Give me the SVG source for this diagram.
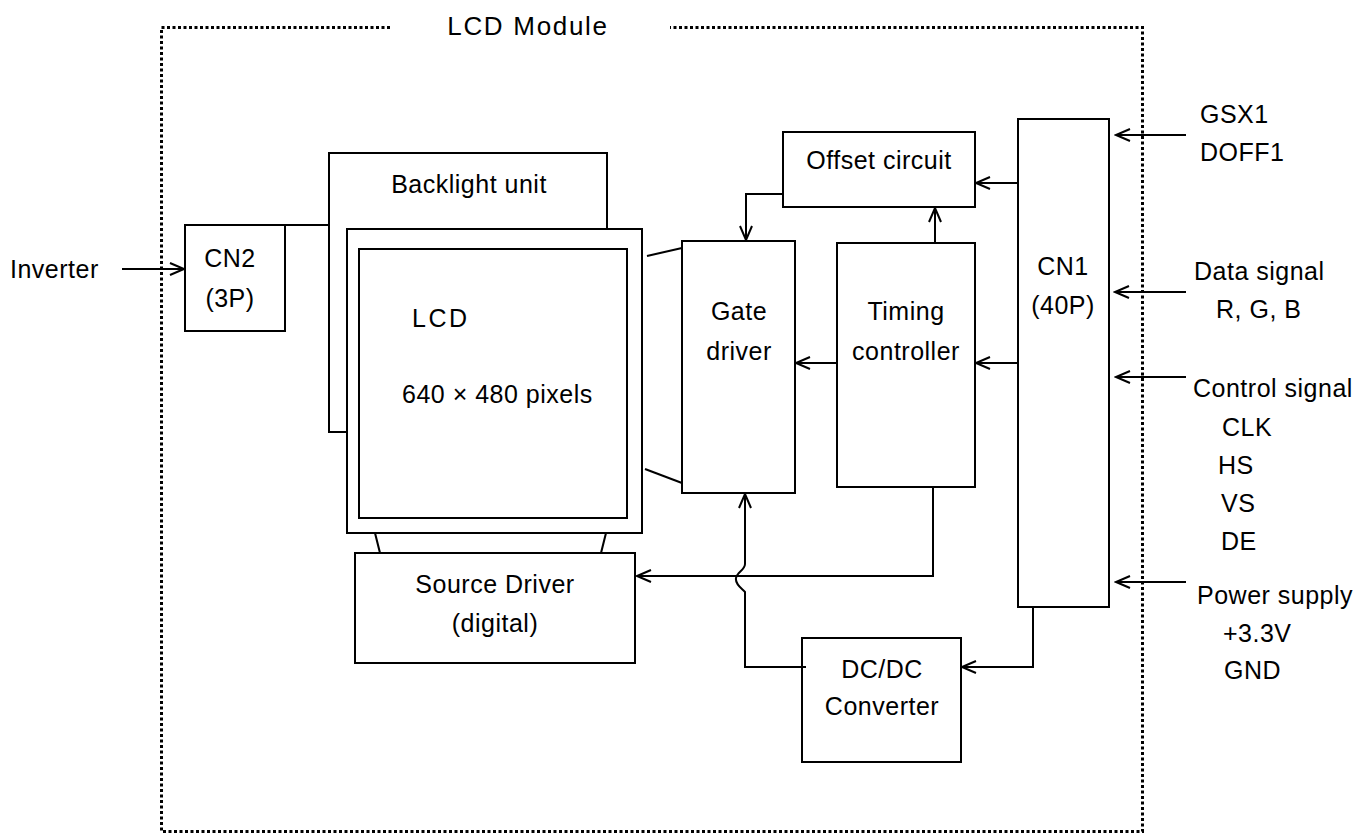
<svg xmlns="http://www.w3.org/2000/svg" width="1371" height="839" viewBox="0 0 1371 839">
<defs>
<style>
text{font-family:"Liberation Sans",Arial,Helvetica,sans-serif;font-size:25px;fill:#000;letter-spacing:0.5px}
.c{text-anchor:middle}
.box{fill:#fff;stroke:#000;stroke-width:2}
.ln{fill:none;stroke:#000;stroke-width:2}
.arr{fill:none;stroke:#000;stroke-width:2;marker-end:url(#ah)}
.border{fill:none;stroke:#000;stroke-width:3;stroke-dasharray:3 2.5}
</style>
<marker id="ah" markerUnits="userSpaceOnUse" viewBox="-16 -8 18 16" refX="0" refY="0" markerWidth="18" markerHeight="16" orient="auto">
<path d="M-14,-6 L0,0 L-14,6" fill="none" stroke="#000" stroke-width="2"/>
</marker>
</defs>
<rect width="1371" height="839" fill="#fff"/>

<g id="module-border">
<path class="border" d="M390,27.5 H161.5 V831.5 H1142.5 V27.5 H670"/>
<text x="528" y="35" class="c" style="font-size:26px;letter-spacing:1.7px">LCD Module</text>
</g>

<g id="backlight">
<path class="ln" d="M347,432 H329 V153 H607 V229"/>
<text x="469" y="193" class="c">Backlight unit</text>
</g>

<g id="lcd">
<rect class="box" x="347" y="229" width="295" height="304"/>
<rect class="box" x="359" y="249" width="268" height="269"/>
<text x="412" y="327" style="letter-spacing:2.5px">LCD</text>
<text x="402" y="403">640 × 480 pixels</text>
</g>

<g id="cn2">
<rect class="box" x="185" y="225" width="100" height="106"/>
<text x="230" y="267" class="c">CN2</text>
<text x="230" y="307" class="c">(3P)</text>
</g>

<g id="gate-driver">
<rect class="box" x="682" y="241" width="113" height="252"/>
<text x="739" y="320" class="c">Gate</text>
<text x="739" y="360" class="c">driver</text>
</g>

<g id="timing-controller">
<rect class="box" x="837" y="243" width="138" height="244"/>
<text x="906" y="320" class="c">Timing</text>
<text x="906" y="360" class="c">controller</text>
</g>

<g id="offset-circuit">
<rect class="box" x="783" y="132" width="192" height="75"/>
<text x="879" y="169" class="c">Offset circuit</text>
</g>

<g id="cn1">
<rect class="box" x="1018" y="119" width="91" height="488"/>
<text x="1063" y="275" class="c">CN1</text>
<text x="1063" y="314" class="c">(40P)</text>
</g>

<g id="source-driver">
<rect class="box" x="355" y="553" width="280" height="110"/>
<text x="495" y="593" class="c">Source Driver</text>
<text x="495" y="632" class="c">(digital)</text>
</g>

<g id="dcdc">
<rect class="box" x="802" y="638" width="159" height="124"/>
<text x="882" y="678" class="c">DC/DC</text>
<text x="882" y="715" class="c">Converter</text>
</g>

<g id="labels">
<text x="10" y="278">Inverter</text>
<text x="1200" y="123">GSX1</text>
<text x="1200" y="161">DOFF1</text>
<text x="1194" y="280">Data signal</text>
<text x="1216" y="318">R, G, B</text>
<text x="1193" y="397">Control signal</text>
<text x="1222" y="436">CLK</text>
<text x="1218" y="474">HS</text>
<text x="1221" y="512">VS</text>
<text x="1221" y="550">DE</text>
<text x="1197" y="604">Power supply</text>
<text x="1223" y="642">+3.3V</text>
<text x="1224" y="679">GND</text>
</g>

<g id="connectors">
<path class="arr" d="M122,269 H184"/>
<path class="ln" d="M285,225 H329"/>
<path class="ln" d="M647,256 L682,248"/>
<path class="ln" d="M645,469 L682,483"/>
<path class="ln" d="M375,533 L380,553"/>
<path class="ln" d="M606,533 L601,553"/>
<path class="arr" d="M1018,183 H976"/>
<path class="arr" d="M783,194 H746 V240"/>
<path class="arr" d="M935,243 V208"/>
<path class="arr" d="M1018,363 H976"/>
<path class="arr" d="M837,363 H796"/>
<path class="arr" d="M933,487 V576 H637"/>
<path class="arr" d="M806,667 H745 V592 C741,588 735,584 736,578 C737,572 745,570 745,564 V494"/>
<path class="arr" d="M1033,607 V667 H962"/>
<path class="arr" d="M1186,135 H1116"/>
<path class="arr" d="M1186,292 H1115"/>
<path class="arr" d="M1186,377 H1116"/>
<path class="arr" d="M1186,582 H1116"/>
</g>
</svg>
